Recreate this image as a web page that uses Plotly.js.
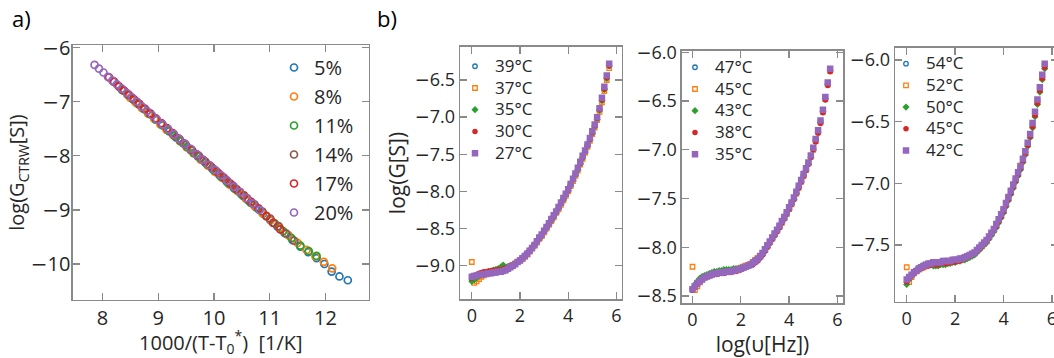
<!DOCTYPE html>
<html><head><meta charset="utf-8">
<script src="https://cdn.plot.ly/plotly-3.0.1.min.js"></script>
<style>html,body{margin:0;padding:0;overflow:hidden;background:#fff;width:1054px;height:358px}#chart{width:1062px;height:358px}</style>
</head><body><div id="chart"></div><script>
// ---------- panel a data ----------
const concLabels = ['5%','8%','11%','14%','17%','20%'];
const x5  = [8.62,8.73,8.84,8.96,9.08,9.20,9.32,9.45,9.58,9.71,9.84,9.97,10.10,10.23,10.36,10.49,10.62,10.75,10.88,11.01,11.14,11.27,11.41,11.55,11.69,11.84,11.98,12.11,12.25,12.40];
const y5  = [-7.02,-7.12,-7.22,-7.33,-7.44,-7.55,-7.66,-7.77,-7.89,-8.01,-8.12,-8.24,-8.36,-8.48,-8.60,-8.71,-8.83,-8.95,-9.07,-9.19,-9.31,-9.43,-9.56,-9.68,-9.78,-9.89,-10.00,-10.14,-10.23,-10.30];
const x8  = [8.50,8.60,8.71,8.82,8.93,9.04,9.15,9.27,9.39,9.51,9.63,9.76,9.89,10.02,10.15,10.29,10.43,10.57,10.72,10.87,11.02,11.18,11.34,11.50,11.66,11.82,11.97,12.12];
const y8  = [-6.93,-7.02,-7.12,-7.22,-7.32,-7.42,-7.52,-7.62,-7.73,-7.84,-7.95,-8.07,-8.18,-8.30,-8.41,-8.54,-8.66,-8.79,-8.92,-9.06,-9.19,-9.33,-9.47,-9.61,-9.74,-9.86,-9.96,-10.08];
const x11 = [8.35,8.45,8.55,8.65,8.75,8.85,8.96,9.07,9.18,9.29,9.40,9.52,9.64,9.76,9.88,10.00,10.13,10.26,10.39,10.52,10.66,10.80,10.94,11.09,11.24,11.39,11.55,11.70,11.84];
const y11 = [-6.78,-6.87,-6.96,-7.05,-7.14,-7.23,-7.33,-7.43,-7.53,-7.63,-7.73,-7.84,-7.95,-8.05,-8.16,-8.27,-8.39,-8.51,-8.62,-8.74,-8.87,-8.99,-9.12,-9.25,-9.39,-9.52,-9.66,-9.76,-9.85];
const x14 = [8.20,8.29,8.38,8.47,8.56,8.66,8.76,8.86,8.96,9.06,9.17,9.28,9.39,9.50,9.61,9.73,9.85,9.97,10.09,10.21,10.34,10.47,10.60,10.73,10.87,11.01,11.16,11.30,11.44];
const y14 = [-6.63,-6.71,-6.79,-6.87,-6.95,-7.04,-7.13,-7.22,-7.31,-7.40,-7.50,-7.60,-7.70,-7.80,-7.90,-8.00,-8.11,-8.22,-8.33,-8.44,-8.55,-8.67,-8.79,-8.90,-9.03,-9.16,-9.30,-9.44,-9.57];
const x17 = [8.12,8.21,8.30,8.39,8.48,8.57,8.66,8.76,8.86,8.96,9.06,9.16,9.26,9.37,9.48,9.59,9.70,9.81,9.93,10.05,10.17,10.29,10.41,10.54,10.67,10.80,10.94,11.06,11.19];
const y17 = [-6.55,-6.63,-6.72,-6.80,-6.88,-6.96,-7.04,-7.13,-7.22,-7.31,-7.40,-7.49,-7.58,-7.68,-7.78,-7.88,-7.98,-8.08,-8.18,-8.29,-8.40,-8.51,-8.62,-8.73,-8.85,-8.97,-9.11,-9.24,-9.36];
const x20 = [7.86,7.94,8.02,8.10,8.18,8.26,8.35,8.44,8.53,8.62,8.71,8.80,8.89,8.98,9.08,9.18,9.28,9.38,9.48,9.58,9.69,9.80,9.91,10.02,10.13,10.24,10.36,10.47,10.59,10.70,10.82];
const y20 = [-6.32,-6.39,-6.46,-6.54,-6.61,-6.68,-6.76,-6.84,-6.92,-7.00,-7.09,-7.17,-7.25,-7.33,-7.42,-7.51,-7.60,-7.69,-7.78,-7.87,-7.97,-8.07,-8.17,-8.26,-8.36,-8.46,-8.57,-8.67,-8.78,-8.88,-9.00];
const yTicksA = [-10,-9,-8,-7,-6];

// ---------- panel b data ----------
const logf = [0,0.1,0.2,0.3,0.4,0.5,0.6,0.7,0.8,0.9,1.0,1.1,1.2,1.3,1.4,1.5,1.6,1.7,1.8,1.9,2.0,2.1,2.2,2.3,2.4,2.5,2.6,2.7,2.8,2.9,3.0,3.1,3.2,3.3,3.4,3.5,3.6,3.7,3.8,3.9,4.0,4.1,4.2,4.3,4.4,4.5,4.6,4.7,4.8,4.9,5.0,5.1,5.2,5.3,5.4,5.5,5.6,5.7];

const tempsB1 = ['39°C','37°C','35°C','30°C','27°C'];
const b1_39 = [-9.19,-9.18,-9.16,-9.14,-9.13,-9.12,-9.11,-9.10,-9.10,-9.09,-9.08,-9.07,-9.07,-9.06,-9.05,-9.03,-9.01,-8.99,-8.97,-8.95,-8.92,-8.89,-8.86,-8.83,-8.80,-8.76,-8.72,-8.68,-8.63,-8.59,-8.54,-8.49,-8.44,-8.39,-8.33,-8.28,-8.22,-8.16,-8.10,-8.04,-7.98,-7.91,-7.84,-7.77,-7.70,-7.62,-7.54,-7.46,-7.38,-7.30,-7.21,-7.12,-7.02,-6.90,-6.77,-6.62,-6.47,-6.31];
const b1_37 = [-8.95,-9.23,-9.21,-9.18,-9.15,-9.13,-9.11,-9.10,-9.09,-9.08,-9.07,-9.06,-9.06,-9.05,-9.04,-9.03,-9.01,-8.99,-8.97,-8.95,-8.93,-8.91,-8.88,-8.85,-8.81,-8.77,-8.73,-8.69,-8.64,-8.60,-8.55,-8.50,-8.45,-8.40,-8.35,-8.29,-8.24,-8.18,-8.12,-8.06,-8.00,-7.93,-7.86,-7.79,-7.72,-7.64,-7.56,-7.48,-7.40,-7.32,-7.23,-7.14,-7.04,-6.93,-6.80,-6.65,-6.50,-6.34];
const b1_35 = [-9.21,-9.19,-9.16,-9.14,-9.12,-9.10,-9.09,-9.08,-9.07,-9.06,-9.05,-9.04,-9.02,-8.99,-9.02,-9.01,-9.00,-8.99,-8.97,-8.95,-8.93,-8.90,-8.87,-8.84,-8.80,-8.77,-8.73,-8.68,-8.64,-8.59,-8.54,-8.49,-8.44,-8.39,-8.34,-8.29,-8.23,-8.17,-8.11,-8.05,-7.99,-7.92,-7.85,-7.78,-7.71,-7.63,-7.55,-7.47,-7.39,-7.31,-7.22,-7.13,-7.03,-6.91,-6.78,-6.63,-6.48,-6.31];
const b1_30 = [-9.17,-9.15,-9.12,-9.10,-9.09,-9.08,-9.08,-9.07,-9.07,-9.06,-9.06,-9.05,-9.05,-9.04,-9.03,-9.02,-9.00,-8.99,-8.97,-8.95,-8.92,-8.89,-8.86,-8.83,-8.79,-8.75,-8.71,-8.67,-8.62,-8.58,-8.53,-8.48,-8.43,-8.38,-8.33,-8.28,-8.22,-8.16,-8.10,-8.04,-7.98,-7.91,-7.84,-7.77,-7.69,-7.62,-7.54,-7.46,-7.38,-7.30,-7.21,-7.12,-7.02,-6.90,-6.77,-6.62,-6.47,-6.31];
const b1_27 = [-9.15,-9.14,-9.13,-9.12,-9.12,-9.11,-9.11,-9.10,-9.10,-9.09,-9.09,-9.08,-9.08,-9.07,-9.06,-9.04,-9.02,-9.00,-8.98,-8.95,-8.93,-8.90,-8.87,-8.84,-8.80,-8.76,-8.72,-8.67,-8.62,-8.58,-8.53,-8.48,-8.43,-8.37,-8.32,-8.27,-8.21,-8.15,-8.09,-8.03,-7.97,-7.90,-7.83,-7.76,-7.68,-7.60,-7.52,-7.45,-7.37,-7.28,-7.19,-7.10,-7.00,-6.88,-6.74,-6.59,-6.44,-6.28];
const yTicksB1 = [-9.0,-8.5,-8.0,-7.5,-7.0,-6.5];

const tempsB2 = ['47°C','45°C','43°C','38°C','35°C'];
const b2_47 = [-8.44,-8.41,-8.38,-8.35,-8.33,-8.31,-8.30,-8.29,-8.28,-8.27,-8.27,-8.26,-8.26,-8.25,-8.25,-8.25,-8.24,-8.24,-8.23,-8.22,-8.22,-8.21,-8.20,-8.19,-8.18,-8.16,-8.14,-8.12,-8.10,-8.07,-8.03,-7.99,-7.95,-7.91,-7.87,-7.83,-7.79,-7.74,-7.70,-7.65,-7.60,-7.55,-7.50,-7.44,-7.38,-7.32,-7.26,-7.20,-7.14,-7.07,-6.99,-6.90,-6.81,-6.71,-6.60,-6.47,-6.32,-6.18];
const b2_45 = [-8.20,-8.44,-8.40,-8.36,-8.33,-8.31,-8.30,-8.29,-8.28,-8.27,-8.27,-8.26,-8.26,-8.26,-8.25,-8.25,-8.24,-8.24,-8.23,-8.22,-8.21,-8.20,-8.19,-8.18,-8.17,-8.15,-8.13,-8.11,-8.09,-8.06,-8.03,-7.99,-7.95,-7.91,-7.87,-7.83,-7.79,-7.75,-7.70,-7.66,-7.61,-7.56,-7.50,-7.45,-7.39,-7.33,-7.27,-7.21,-7.14,-7.07,-7.00,-6.91,-6.82,-6.72,-6.61,-6.48,-6.33,-6.19];
const b2_43 = [-8.42,-8.38,-8.35,-8.32,-8.30,-8.29,-8.28,-8.27,-8.26,-8.25,-8.25,-8.24,-8.24,-8.23,-8.23,-8.23,-8.23,-8.22,-8.22,-8.22,-8.21,-8.21,-8.20,-8.19,-8.18,-8.17,-8.15,-8.13,-8.11,-8.08,-8.04,-8.00,-7.96,-7.92,-7.88,-7.84,-7.80,-7.75,-7.71,-7.66,-7.61,-7.56,-7.51,-7.45,-7.39,-7.33,-7.27,-7.21,-7.15,-7.08,-7.00,-6.91,-6.82,-6.72,-6.61,-6.48,-6.33,-6.19];
const b2_38 = [-8.44,-8.41,-8.38,-8.35,-8.33,-8.31,-8.30,-8.29,-8.28,-8.28,-8.28,-8.27,-8.27,-8.27,-8.26,-8.26,-8.26,-8.25,-8.25,-8.24,-8.23,-8.22,-8.21,-8.20,-8.19,-8.18,-8.16,-8.14,-8.11,-8.08,-8.04,-8.00,-7.96,-7.92,-7.88,-7.84,-7.80,-7.75,-7.71,-7.66,-7.61,-7.56,-7.51,-7.45,-7.39,-7.33,-7.27,-7.21,-7.15,-7.08,-7.00,-6.92,-6.83,-6.73,-6.62,-6.49,-6.34,-6.20];
const b2_35 = [-8.43,-8.40,-8.37,-8.35,-8.33,-8.31,-8.30,-8.29,-8.28,-8.27,-8.27,-8.26,-8.26,-8.26,-8.25,-8.25,-8.25,-8.24,-8.23,-8.23,-8.22,-8.21,-8.20,-8.19,-8.18,-8.16,-8.14,-8.12,-8.09,-8.06,-8.02,-7.98,-7.94,-7.90,-7.86,-7.82,-7.78,-7.73,-7.69,-7.64,-7.59,-7.54,-7.49,-7.43,-7.37,-7.31,-7.25,-7.19,-7.13,-7.06,-6.98,-6.89,-6.80,-6.70,-6.59,-6.46,-6.31,-6.17];
const yTicksB2 = [-8.5,-8.0,-7.5,-7.0,-6.5,-6.0];

const tempsB3 = ['54°C','52°C','50°C','45°C','42°C'];
const b3_54 = [-7.80,-7.77,-7.75,-7.73,-7.71,-7.69,-7.68,-7.67,-7.66,-7.66,-7.65,-7.65,-7.65,-7.64,-7.64,-7.64,-7.64,-7.63,-7.63,-7.63,-7.62,-7.62,-7.62,-7.61,-7.60,-7.59,-7.58,-7.57,-7.56,-7.55,-7.53,-7.51,-7.49,-7.46,-7.44,-7.41,-7.37,-7.34,-7.30,-7.26,-7.21,-7.17,-7.12,-7.07,-7.02,-6.97,-6.92,-6.86,-6.81,-6.75,-6.68,-6.61,-6.53,-6.43,-6.34,-6.24,-6.14,-6.05];
const b3_52 = [-7.68,-7.80,-7.76,-7.73,-7.71,-7.70,-7.69,-7.68,-7.67,-7.66,-7.66,-7.65,-7.65,-7.65,-7.65,-7.64,-7.64,-7.64,-7.64,-7.63,-7.63,-7.63,-7.62,-7.62,-7.61,-7.60,-7.59,-7.58,-7.57,-7.55,-7.53,-7.51,-7.49,-7.47,-7.44,-7.41,-7.38,-7.34,-7.30,-7.26,-7.22,-7.17,-7.12,-7.07,-7.02,-6.97,-6.92,-6.87,-6.81,-6.75,-6.68,-6.61,-6.53,-6.44,-6.34,-6.24,-6.14,-6.05];
const b3_50 = [-7.82,-7.78,-7.75,-7.72,-7.70,-7.68,-7.67,-7.66,-7.66,-7.66,-7.66,-7.67,-7.67,-7.67,-7.66,-7.66,-7.66,-7.65,-7.65,-7.64,-7.64,-7.63,-7.63,-7.62,-7.62,-7.61,-7.60,-7.59,-7.58,-7.56,-7.54,-7.52,-7.50,-7.48,-7.45,-7.42,-7.39,-7.36,-7.32,-7.28,-7.24,-7.19,-7.14,-7.09,-7.04,-6.99,-6.94,-6.89,-6.83,-6.77,-6.70,-6.63,-6.55,-6.46,-6.36,-6.26,-6.16,-6.07];
const b3_45 = [-7.80,-7.77,-7.75,-7.73,-7.71,-7.70,-7.69,-7.68,-7.67,-7.67,-7.66,-7.66,-7.66,-7.66,-7.65,-7.65,-7.65,-7.65,-7.64,-7.64,-7.64,-7.63,-7.63,-7.62,-7.61,-7.60,-7.59,-7.58,-7.57,-7.55,-7.53,-7.51,-7.49,-7.47,-7.44,-7.41,-7.38,-7.35,-7.31,-7.27,-7.23,-7.18,-7.13,-7.08,-7.03,-6.98,-6.93,-6.88,-6.82,-6.76,-6.69,-6.62,-6.54,-6.45,-6.35,-6.25,-6.15,-6.06];
const b3_42 = [-7.78,-7.76,-7.74,-7.72,-7.71,-7.69,-7.68,-7.67,-7.66,-7.65,-7.65,-7.64,-7.64,-7.64,-7.64,-7.63,-7.63,-7.63,-7.63,-7.62,-7.62,-7.62,-7.61,-7.61,-7.60,-7.59,-7.58,-7.57,-7.56,-7.54,-7.52,-7.50,-7.48,-7.46,-7.43,-7.40,-7.37,-7.33,-7.29,-7.25,-7.21,-7.16,-7.11,-7.06,-7.01,-6.96,-6.91,-6.86,-6.80,-6.74,-6.67,-6.60,-6.51,-6.42,-6.32,-6.22,-6.12,-6.03];
const yTicksB3 = [-7.5,-7.0,-6.5,-6.0];

// ---------- styles ----------
const colors = ['#1f77b4','#ff7f0e','#2ca02c','#8c564b','#d62728','#9467bd'];
const colorsB = ['#1f77b4','#ff7f0e','#2ca02c','#d62728','#9467bd'];
const FONT = 'Open Sans, Noto Sans, sans-serif';
const TXT = '#262626';
const MINUS = '<span style="font-family:DejaVu Sans">\u2212</span>';
const tickText = (vals, d) => vals.map(v => (v < 0 ? MINUS : '') + Math.abs(v).toFixed(d));

const traces = [];
const aX = [x5,x8,x11,x14,x17,x20], aY = [y5,y8,y11,y14,y17,y20];
concLabels.forEach((lab,i)=>{
  traces.push({type:'scatter',mode:'markers',x:aX[i],y:aY[i],name:lab,xaxis:'x',yaxis:'y',legend:'legend',
    marker:{symbol:'circle-open',size:7,color:colors[i],line:{width:1.7,color:colors[i]}}});
});
const symB = [
  {symbol:'circle-open',size:4.5,line:{width:1.3}},
  {symbol:'square-open',size:4.5,line:{width:1.3}},
  {symbol:'diamond',size:5.5,line:{width:0}},
  {symbol:'circle',size:5.5,line:{width:0}},
  {symbol:'square',size:6.5,line:{width:0}}
];
const panelsB = [
  {temps:tempsB1, ys:[b1_39,b1_37,b1_35,b1_30,b1_27], xa:'x2', ya:'y2', lg:'legend2'},
  {temps:tempsB2, ys:[b2_47,b2_45,b2_43,b2_38,b2_35], xa:'x3', ya:'y3', lg:'legend3'},
  {temps:tempsB3, ys:[b3_54,b3_52,b3_50,b3_45,b3_42], xa:'x4', ya:'y4', lg:'legend4'}
];
panelsB.forEach(p=>{
  p.temps.forEach((t,i)=>{
    const s = symB[i];
    traces.push({type:'scatter',mode:'markers',x:logf,y:p.ys[i],
      name:'<span style="font-size:17px">'+t+'</span>',xaxis:p.xa,yaxis:p.ya,legend:p.lg,
      marker:{symbol:s.symbol,size:s.size,color:colorsB[i],line:{width:s.line.width,color:colorsB[i]}}});
  });
});

const W = 1062, H = 358;
const px = v => v / W, py = v => 1 - v / H;
function ax(o, fs){
  return Object.assign({
    showline:true, mirror:'allticks', linecolor:'#8a8a8a', linewidth:1.3,
    ticks:'inside', ticklen:7, tickwidth:1.3, tickcolor:'#8a8a8a',
    showgrid:false, zeroline:false, automargin:false,
    tickfont:{family:FONT,size:fs,color:TXT}
  }, o);
}
const legB = (x,y) => ({x:px(x), y:py(y), xanchor:'left', yanchor:'top', bgcolor:'rgba(0,0,0,0)', font:{family:FONT,size:14.4,color:TXT}});
const layout = {
  width:W, height:H, margin:{l:0,r:0,t:0,b:0},
  paper_bgcolor:'#fff', plot_bgcolor:'#fff',
  font:{family:FONT,color:TXT},
  showlegend:true,
  xaxis: ax({domain:[px(72.7),px(369)], range:[7.468,12.78], tick0:8, dtick:1, anchor:'y',
    title:{text:'1000/(T-T<sub>0</sub><sup>*</sup>)\u00a0\u00a0[1/K]', font:{family:FONT,size:20,color:TXT}, standoff:5}},20),
  yaxis: ax({domain:[py(300),py(45)], range:[-10.665,-5.952], tickmode:'array', tickvals:yTicksA, ticktext:tickText(yTicksA,0), anchor:'x',
    ticklabelstandoff:-3,
    title:{text:'log(G<sub>CTRW</sub>[S])', font:{family:FONT,size:20,color:TXT}, standoff:0}},20),
  xaxis2: ax({domain:[px(460),px(621.7)], range:[-0.49,6.22], tick0:0, dtick:2, anchor:'y2'},18),
  yaxis2: ax({domain:[py(299.3),py(46.7)], range:[-9.452,-6.052], tickmode:'array', tickvals:yTicksB1, ticktext:tickText(yTicksB1,1), anchor:'x2',
    title:{text:'log(G[S])', font:{family:FONT,size:21,color:TXT}, standoff:3}},18),
  xaxis3: ax({domain:[px(681.7),px(843.3)], range:[-0.447,6.244], tick0:0, dtick:2, anchor:'y3',
    title:{text:'log(υ[Hz])', font:{family:FONT,size:21,color:TXT}, standoff:1}},18),
  yaxis3: ax({domain:[py(303.3),py(50.7)], range:[-8.575,-5.984], tickmode:'array', tickvals:yTicksB2, ticktext:tickText(yTicksB2,1), anchor:'x3'},18),
  xaxis4: ax({domain:[px(895),px(1058)], range:[-0.484,6.25], tick0:0, dtick:2, anchor:'y4'},18),
  yaxis4: ax({domain:[py(301.7),py(47.7)], range:[-7.9595,-5.900], tickmode:'array', tickvals:yTicksB3, ticktext:tickText(yTicksB3,1), anchor:'x4'},18),
  legend:{x:px(274), y:py(48), xanchor:'left', yanchor:'top', bgcolor:'rgba(0,0,0,0)', font:{family:FONT,size:20,color:TXT}, tracegroupgap:0},
  legend2: legB(455, 50.4),
  legend3: legB(675, 51.4),
  legend4: legB(886, 47.8),
  annotations:[
    {text:'a)', x:px(10), y:py(18), xref:'paper', yref:'paper', xanchor:'left', yanchor:'middle', showarrow:false, font:{family:FONT,size:22,color:'#000'}},
    {text:'b)', x:px(375), y:py(18), xref:'paper', yref:'paper', xanchor:'left', yanchor:'middle', showarrow:false, font:{family:FONT,size:22,color:'#000'}}
  ]
};
Plotly.newPlot('chart', traces, layout, {displayModeBar:false, staticPlot:true});
</script></body></html>
